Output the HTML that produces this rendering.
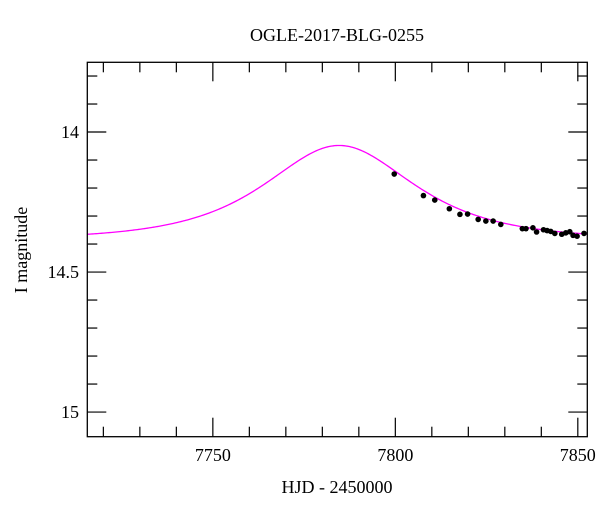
<!DOCTYPE html>
<html><head><meta charset="utf-8"><style>
body{margin:0;background:#fff}
svg{display:block}
text{font-family:"Liberation Serif",serif;fill:#000}
</style></head><body>
<svg id="chart" width="600" height="512" viewBox="0 0 600 512" xmlns="http://www.w3.org/2000/svg">
<text x="337" y="41" font-size="18" text-anchor="middle">OGLE-2017-BLG-0255</text>
<text x="337" y="493" font-size="18" text-anchor="middle">HJD - 2450000</text>
<text transform="translate(27,250) rotate(-90)" font-size="18" text-anchor="middle">I magnitude</text>
<g id="ticks"></g>
<path id="model" fill="none" stroke="#ff00ff" stroke-width="1.3"/>
<g id="pts"></g>
<rect x="87.3" y="62.3" width="500" height="374.4" fill="none" stroke="#000" stroke-width="1.3"/>
</svg>
<script>
const obsTimes=[7799.7,7807.7,7810.8,7814.8,7817.7,7819.8,7822.7,7824.8,7826.8,7828.9,7834.8,7835.8,7837.7,7838.7,7840.6,7841.6,7842.6,7843.7,7845.6,7846.7,7847.8,7848.7,7849.8,7851.7];
const obsMags=[14.150,14.227,14.243,14.274,14.294,14.293,14.312,14.318,14.318,14.330,14.345,14.345,14.342,14.357,14.349,14.352,14.355,14.362,14.365,14.360,14.356,14.369,14.372,14.362];
const modelT0=[7784.6];
const modelU0=[0.97];
const modelTE=[25];
const modelBase=[14.385];
const xTicks=[7750,7800,7850];
const yTicks=[14,14.5,15];
const xMin=7715.6,xMax=7852.6,yMin=13.751,yMax=15.088;
const L=87.3,R=587.3,T=62.3,B=436.7;
const sx=t=>L+(t-xMin)/(xMax-xMin)*(R-L);
const sy=m=>T+(m-yMin)/(yMax-yMin)*(B-T);
const NS='http://www.w3.org/2000/svg';
const svg=document.getElementById('chart');
const tg=document.getElementById('ticks');
function line(x1,y1,x2,y2,name){const l=document.createElementNS(NS,'line');
l.setAttribute('x1',x1);l.setAttribute('y1',y1);l.setAttribute('x2',x2);l.setAttribute('y2',y2);
l.setAttribute('stroke','#000');l.setAttribute('stroke-width','1.2');


tg.appendChild(l);}
function txt(x,y,s,anchor,name){const t=document.createElementNS(NS,'text');
t.setAttribute('x',x);t.setAttribute('y',y);t.setAttribute('font-size','18');t.setAttribute('text-anchor',anchor);t.textContent=s;


svg.appendChild(t);}
for(let v=7720;v<=7850;v+=10){const x=sx(v);const maj=v%50===0;const len=maj?19:10;
line(x,B,x,B-len,'x-tick');line(x,T,x,T+len,'x-tick-top');}
xTicks.forEach(v=>txt(sx(v),461,String(v),'middle','x-tick-label'));
for(let i=0;i<=13;i++){const v=13.8+i*0.1;const y=sy(v);if(y<T||y>B)continue;
const maj=Math.abs(v*2-Math.round(v*2))<1e-6;const len=maj?19:10;
line(L,y,L+len,y,'y-tick');line(R,y,R-len,y,'y-tick-right');}
yTicks.forEach(v=>txt(79,sy(v)+6,String(v),'end','y-tick-label'));
function modelMag(t){const u0=modelU0[0],tE=modelTE[0];const tau=(t-modelT0[0])/tE;
const u=Math.sqrt(u0*u0+tau*tau);const A=(u*u+2)/(u*Math.sqrt(u*u+4));return modelBase[0]-2.5*Math.log10(A);}
let d='';for(let i=0;i<=400;i++){const t=xMin+(xMax-xMin)*i/400;d+=(i?'L':'M')+sx(t).toFixed(2)+','+sy(modelMag(t)).toFixed(2);}
document.getElementById('model').setAttribute('d',d);
const pg=document.getElementById('pts');
obsTimes.forEach((t,i)=>{const c=document.createElementNS(NS,'circle');
c.setAttribute('cx',sx(t));c.setAttribute('cy',sy(obsMags[i]));c.setAttribute('r','2.8');c.setAttribute('fill','#000');


pg.appendChild(c);});
</script>
</body></html>
